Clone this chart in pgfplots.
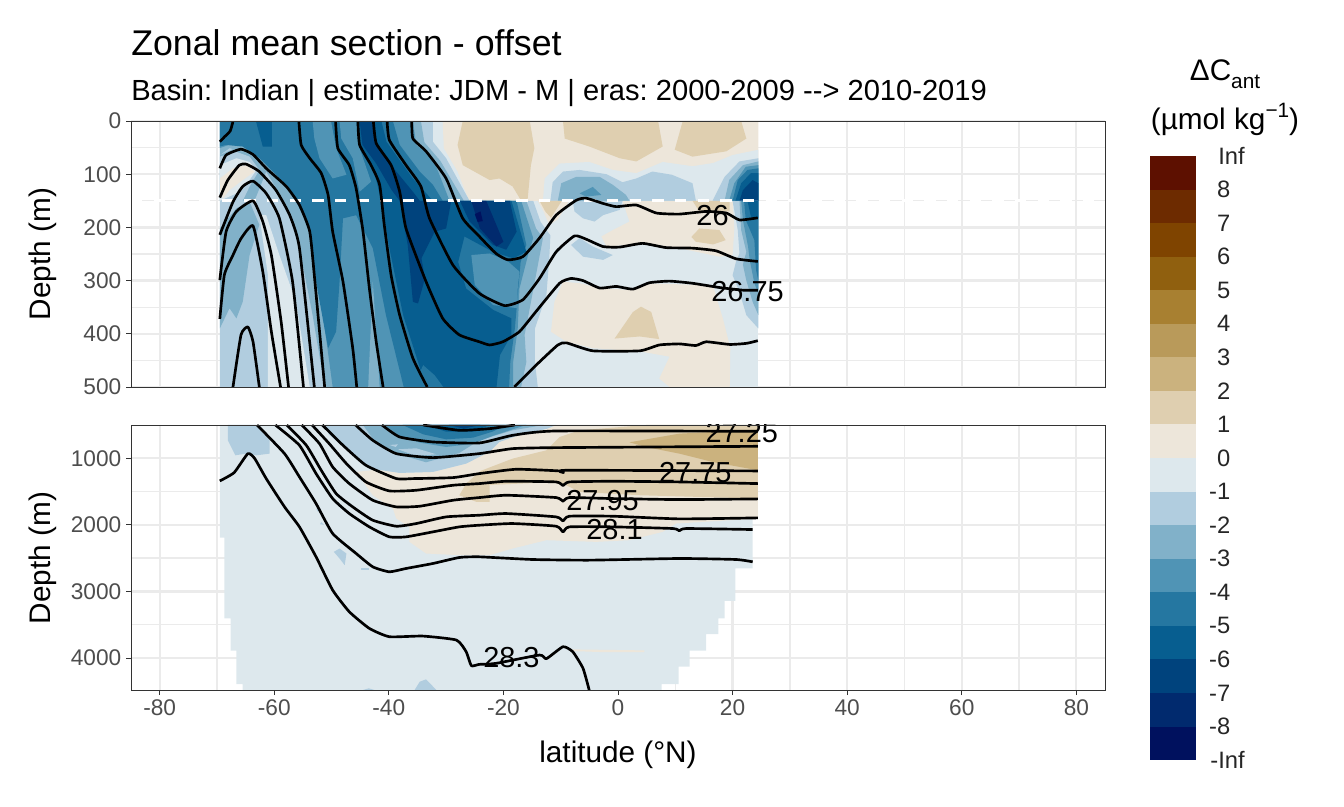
\documentclass[border=0pt]{standalone}
\usepackage{pgfplots}
\pgfplotsset{compat=1.18}
\usepackage{fontspec}
\setmainfont{Liberation Sans}
\definecolor{P8}{HTML}{5D1000}\definecolor{P7}{HTML}{6D2B00}\definecolor{P6}{HTML}{7F4400}
\definecolor{P5}{HTML}{90600F}\definecolor{P4}{HTML}{A88031}\definecolor{P3}{HTML}{B99A5A}
\definecolor{P2}{HTML}{CBB27E}\definecolor{P1}{HTML}{DFCFB0}\definecolor{P0}{HTML}{EDE6DA}
\definecolor{N0}{HTML}{DDE8ED}\definecolor{N1}{HTML}{B1CDDF}\definecolor{N2}{HTML}{81B1C9}
\definecolor{N3}{HTML}{5094B5}\definecolor{N4}{HTML}{2577A1}\definecolor{N5}{HTML}{075E90}
\definecolor{N6}{HTML}{00437D}\definecolor{N7}{HTML}{012A6E}\definecolor{N8}{HTML}{00115E}
\definecolor{gridc}{HTML}{EBEBEB}\definecolor{frame}{HTML}{333333}\definecolor{ticklab}{HTML}{4D4D4D}
\newcommand\F[2]{\addplot[fill=#1,draw=none] coordinates {#2} --cycle;}
\newcommand\C[1]{\addplot[black,line width=2pt,smooth,tension=.3,line join=round] coordinates {#1};}
\newcommand\Lab[3]{\node[font=\fontsize{21.7}{24}\selectfont,inner sep=0pt] at (axis cs:#1,#2) {#3};}
\pgfplotsset{panel/.style={
  scale only axis,width=730.5pt,xmin=-85,xmax=85,y dir=reverse,
  xtick={-80,-60,-40,-20,0,20,40,60,80},minor x tick num=1,minor tick length=0pt,
  grid=both,major grid style={gridc,line width=1.7pt},minor grid style={gridc,line width=1pt},
  axis line style={frame,line width=.7pt},tick style={frame,line width=.7pt},
  major tick length=3.75pt,tick align=outside,tick pos=left,
  tick label style={font=\fontsize{17}{20}\selectfont,text=ticklab},
  /pgf/number format/assume math mode=true,/pgf/number format/1000 sep={},
  scaled ticks=false,clip=true,
}}
\begin{document}
\frenchspacing
\begin{tikzpicture}
\path[use as bounding box] (0,0) rectangle (1008pt,604.5pt);
%% ---------- upper panel ----------
\begin{axis}[panel,at={(98.25pt,314.25pt)},anchor=south west,height=199.5pt,ymin=0,ymax=500,
  ytick={0,100,200,300,400,500},minor y tick num=1,xticklabels={},x tick style={draw=none}]
\F{N0}{(-69.5,0)(24.5,0)(24.5,500)(-69.5,500)}
% positive, above 150 m
\F{P0}{(-30.6,0)(-30.4,51)(-28,95)(-26,150)(24.5,150)(24.5,0)}
\F{P1}{(-27.1,0)(-28,45)(-27.1,83)(-22.4,111)(-20.7,108)(-18.4,123)(-16.9,150)(-15.8,150)(-15.2,83)(-14.6,51)(-15.4,0)}
\F{P1}{(-9.6,0)(-9.3,33)(-5,48)(0.3,70)(3.2,76)(7.8,48)(7,0)}
\F{P1}{(11.3,0)(9.9,54)(13,67)(18.9,57)(22.4,33)(21.5,0)}
% negative lobes, above 150 m
\F{N0}{(-13.1,150)(-12.8,108)(-10.2,80)(-5,77)(-0.9,92)(3.2,98)(7.8,77)(13,85)(16.6,79)(20,64)(24.5,54)(24.5,150)}
\F{N1}{(-11.8,150)(-11.4,115)(-9.6,95)(-6.7,92)(-2,100)(0.8,115)(3.2,108)(6,95)(9.4,101)(13,117)(13.6,150)}
\F{N2}{(-10.5,150)(-9.9,117)(-7.3,105)(-3.2,105)(-0.9,120)(1.4,139)(2,150)}
\F{N3}{(-6.7,136)(-4.4,124)(-2.9,139)(-5.6,142)}
\F{N1}{(16.5,150)(18.6,105)(21.2,76)(24.5,70)(24.5,150)}
\F{N2}{(18.6,150)(19.4,111)(21.8,83)(24.5,76)(24.5,150)}
\F{N3}{(19.4,150)(20.3,117)(22.3,86)(24.5,83)(24.5,150)}
\F{N4}{(20,150)(20.9,111)(22.6,92)(24.5,89)(24.5,150)}
\F{N5}{(20.5,150)(21.5,117)(23.2,98)(24.5,98)(24.5,150)}
\F{N6}{(21.2,150)(21.8,130)(23.5,111)(24.5,117)(24.5,150)}
% positive, below 150 m
\F{P0}{(0.8,150)(20,150)(20.3,202)(20,252)(17.7,255)(10.7,239)(4.9,230)(-2,236)(-2.9,217)(-0.9,205)(2,189)(1.4,170)}
\F{P0}{(-14,150)(-8.5,150)(-10.5,185)(-12,195)(-13,170)}
\F{P1}{(-13.7,150)(-9.8,150)(-11.7,182)(-12.7,170)}
\F{P1}{(13,150)(19.5,150)(19.5,170)(14.2,170)}
\F{P1}{(12.8,218)(14.2,202)(17.7,205)(18.8,224)(16.6,232)(13.6,227)}
\F{N1}{(-7.9,150)(0.8,150)(0.3,167)(-2.6,177)(-4.1,189)(-6.1,183)(-7.6,170)}
\F{N1}{(-8.2,233)(-6.7,220)(-4.4,236)(-0.9,252)(-2.6,261)(-6.1,255)}
\F{P0}{(-9.6,302)(-6.7,305)(-3.2,314)(2.6,318)(4.9,305)(16.6,309)(17.4,340)(18.3,371)(19.6,427)(19.5,500)(9,500)(7.2,484)(9,443)(3.8,433)(-4.4,427)(-9,415)(-11.7,396)(-11.1,340)}
\F{P1}{(-0.6,409)(2.6,359)(4,349)(5.8,359)(7.2,410)(3.8,405)}
% right-hand blob below 150 m
\F{N1}{(20,150)(20.9,205)(21.2,249)(20.6,264)(20,290)(21.2,321)(22.4,365)(24.5,390)(24.5,150)}
\F{N2}{(21.2,150)(21.5,205)(22.4,246)(21.8,270)(22.4,300)(23.5,340)(24.5,365)(24.5,150)}
\F{N3}{(21.5,150)(21.8,186)(22.7,236)(23,262)(23.8,305)(24.5,324)(24.5,150)}
\F{N4}{(22,150)(22.3,186)(23.8,224)(24.1,280)(24.5,300)(24.5,150)}
\F{N5}{(22.6,150)(23.2,180)(24.5,183)(24.5,150)}
% left, nested layers
\F{N1}{(-69.5,0)(-32.3,0)(-32.3,39)(-30,70)(-27.1,127)(-25.9,150)(-14.8,150)(-13.5,190)(-11.8,215)(-12,260)(-12.5,327)(-14.5,390)(-14.5,453)(-14,500)(-69.5,500)}
\F{N0}{(-62.6,177)(-61.1,290)(-61.1,500)(-53.8,500)(-56.2,340)(-59.1,252)(-61.4,177)}
\F{N2}{(-69.5,0)(-34.4,0)(-33.8,40)(-31,75)(-28,130)(-26.9,150)(-16,150)(-14.3,202)(-13.1,220)(-15.4,352)(-16.3,402)(-16,453)(-16.9,500)(-51.2,500)(-53.3,365)(-55.6,239)(-57.9,158)(-61.4,95)(-64.3,61)(-67.8,51)(-69.5,64)}
\F{N3}{(-69.5,0)(-35.8,0)(-35.2,45)(-32.3,70)(-29.4,150)(-16.9,150)(-14.8,220)(-15.7,252)(-17.2,315)(-17.5,390)(-18.3,453)(-18.3,500)(-49.8,500)(-51.5,365)(-52.9,239)(-55,177)(-57.3,127)(-60.8,83)(-64.3,51)(-67.2,42)(-69.5,51)}
\F{N4}{(-69.5,0)(-39.3,0)(-38.1,45)(-34.6,95)(-32.3,120)(-30.6,150)(-17.7,150)(-16,233)(-17,265)(-18,390)(-18.8,453)(-19,500)(-37.4,500)(-40.5,365)(-42.8,239)(-45.7,177)(-48,183)(-48.6,302)(-49.2,396)(-50.6,427)(-52.7,302)(-53.8,208)(-55.6,158)(-58.5,114)(-62.6,70)(-65.5,48)(-68.4,45)(-69.5,48)}
\F{N2}{(-43.6,500)(-42.8,302)(-41.6,500)}
\F{N3}{(-25.6,252)(-22.4,249)(-19.2,264)(-17.2,283)(-17.5,315)(-17.5,352)(-21.8,346)(-25,308)}
\F{N3}{(-53.3,0)(-50.1,0)(-49.2,51)(-47.4,101)(-49.8,108)(-52.1,70)(-53,33)}
\F{N3}{(-48.6,0)(-45.7,0)(-45.1,51)(-43.1,114)(-45.1,133)(-46.3,70)(-48.3,33)}
\F{N5}{(-63.2,0)(-60.4,0)(-60.4,48)(-62,48)}
\F{N5}{(-45.4,0)(-41.3,0)(-40.4,39)(-35.8,108)(-32.3,150)(-18.6,150)(-16,246)(-18.3,258)(-21.8,246)(-26.8,217)(-27.9,265)(-26.5,315)(-21.8,355)(-18.6,371)(-18.6,402)(-20.6,440)(-21.2,500)(-33.5,500)(-37.5,365)(-39.9,239)(-41.3,152)(-42.8,83)(-45.1,45)}
\F{N4}{(-35.8,500)(-34,459)(-32,478)(-30.5,500)}
\F{N6}{(-45.1,0)(-44.6,45)(-42.2,80)(-39.5,130)(-38.1,150)(-36.7,233)(-35.8,340)(-34.9,343)(-33.7,296)(-34.3,258)(-32,208)(-30,202)(-29.1,150)(-34.6,150)(-35.8,133)(-38.7,95)(-42.2,39)(-42.5,0)}
\F{N6}{(-27.6,150)(-18.9,150)(-17.7,208)(-19.5,242)(-21.8,233)(-25.9,189)}
\F{N7}{(-25.6,150)(-23,150)(-20,227)(-21.2,236)(-24.1,202)}
\F{N8}{(-25,175)(-24,170)(-23.6,188)(-24.5,190)}
% left bump
\F{N2}{(-69.5,202)(-66.6,164)(-64.3,152)(-62.6,195)(-64.3,252)(-65.5,340)(-66.6,371)(-67.8,352)(-69.5,390)}
\F{N2}{(-69.5,64)(-67.2,53)(-64.3,61)(-61.4,95)(-63.3,146)(-65.5,150)(-69.5,150)}
\F{N1}{(-69.5,67)(-66.6,58)(-64.3,67)(-62.6,92)(-64.3,123)(-65.5,150)(-69.5,150)}
\F{N0}{(-69.5,83)(-66.6,70)(-64.3,77)(-63.1,92)(-64.9,120)(-66.6,136)(-69.5,150)}
\F{P0}{(-69.5,108)(-67.2,89)(-64.9,83)(-63.4,95)(-65.5,111)(-67.8,130)(-68.9,145)(-69.5,130)}
% dashed line at 150 m
\addplot[white,line width=2pt,dash pattern=on 8.5pt off 8.5pt] coordinates {(-85,150)(85,150)};
% isopycnals
\C{(-69.5,39)(-68.7,30)(-67.7,19)(-67.3,5)(-67.2,0)}
\C{(-69.5,89)(-68.4,64)(-65.8,53)(-63.7,63)(-61.4,89)(-57.9,123)(-55.6,158)(-53.8,208)(-52.9,302)(-51.2,500)}
\C{(-69.5,144)(-68.1,111)(-66.1,83)(-64.9,81)(-62.6,95)(-59.7,130)(-57.3,177)(-55.6,239)(-53,500)}
\C{(-69.5,214)(-67.2,152)(-65.5,123)(-63.7,113)(-61.4,136)(-59.1,183)(-56.8,302)(-54.9,500)}
\C{(-69.5,299)(-68.4,208)(-66.6,170)(-63.7,150)(-62,189)(-60.5,252)(-58.8,377)(-57.5,500)}
\C{(-69.5,372)(-68.7,289)(-67.2,252)(-65.8,221)(-63.7,197)(-62,283)(-60.5,396)(-58.9,500)}
\C{(-67.2,500)(-65.8,402)(-64.6,387)(-63.7,415)(-62.6,500)}
\C{(-55.7,0)(-55.3,45)(-53.8,70)(-51.8,98)(-50.6,139)(-49.8,208)(-48,302)(-46.3,427)(-45.6,500)}
\C{(-49.3,0)(-48.9,51)(-46.9,83)(-45.7,127)(-44.5,208)(-43.4,314)(-42.2,415)(-41,500)}
\C{(-45.4,0)(-45.1,45)(-43.1,83)(-41.6,120)(-40.8,195)(-39.6,290)(-38.1,365)(-35.8,446)(-33.3,500)}
\C{(-42.7,0)(-42.2,42)(-39.6,83)(-38.1,133)(-37,202)(-33.5,302)(-30.6,371)(-27.7,402)(-24.2,415)(-22.4,421)(-20.1,415)(-17.2,396)(-14.3,358)(-10.2,305)(-8.2,296)(-6.1,300)(-3.2,314)(-0.3,311)(2.6,316)(5.5,304)(9,301)(13,305)(17.7,313)(21.8,318)(24.4,318)}
\C{(-40.3,0)(-39.9,36)(-37,83)(-34.4,123)(-32.9,183)(-28.8,271)(-24.2,324)(-19.8,347)(-16.6,336)(-13.7,296)(-10.8,246)(-7.6,216)(-5.6,222)(-2.6,236)(0.3,237)(4.3,230)(8.4,238)(13,239)(17.1,244)(20.6,259)(24.4,264)}
\C{(-36,0)(-35.8,33)(-33.5,57)(-30,108)(-27.1,183)(-24.2,217)(-21.3,249)(-19.2,261)(-16.6,255)(-13.7,220)(-10.8,177)(-7.3,149)(-5.6,145)(-2.6,155)(-0.3,161)(3.2,158)(6.7,173)(10.7,175)(15.4,170)(18.9,173)(21.2,186)(24.4,182)}
\C{(-18.1,500)(-14.3,459)(-10.5,421)(-9,417)(-4.4,432)(3.8,432)(7.2,421)(10.7,419)(13.6,422)(15.4,415)(19.5,420)(22.4,418)(24.4,413)}
\Lab{16.5}{177}{26}
\Lab{22.6}{320}{26.75}
\draw[frame,line width=.7pt] (rel axis cs:0,0) rectangle (rel axis cs:1,1);
\end{axis}
%% ---------- lower panel ----------
\begin{axis}[panel,at={(98.25pt,87pt)},anchor=south west,height=198.75pt,ymin=500,ymax=4480,
  ytick={1000,2000,3000,4000},minor y tick num=1]
\F{N0}{(-69.5,500)(24.4,500)(24.4,1905)(23.5,1905)(23.5,2655)(20.5,2655)(20.5,3140)(18.6,3140)(18.6,3405)(17.5,3405)(17.5,3640)(15.4,3640)(15.4,3890)(12.5,3890)(12.5,4130)(10.6,4130)(10.6,4390)(7.6,4390)(7.6,4480)(-65.5,4480)(-65.5,4390)(-66.6,4390)(-66.6,3890)(-67.6,3890)(-67.6,3405)(-68.7,3405)(-68.7,2190)(-69.5,2190)}
\F{P0}{(-45.7,1205)(-42.8,1555)(-39.3,1755)(-38.7,1905)(-36.4,2030)(-36.4,2255)(-33.5,2430)(-27.7,2455)(-22.4,2455)(-18.4,2355)(-12.5,2230)(-3.8,2255)(2,2230)(7.8,2105)(10.1,1980)(24.4,1905)(24.4,500)(-10.8,500)(-12.5,560)(-16.6,630)(-20.7,755)(-22.4,900)(-26.5,1080)(-32.3,1205)(-38.1,1220)(-42,1170)}
\F{P1}{(-26.5,1380)(-24,1190)(-18.4,1005)(-12.5,880)(-10.2,680)(-6.7,580)(4.9,500)(24.4,500)(24.4,1605)(3.8,1555)(-6.7,1505)(-10.2,1355)(-22.4,1400)(-22.4,1655)(-24.7,1655)(-27.7,1555)}
\F{P2}{(2,760)(10.7,630)(24.4,570)(24.4,1180)(16.5,1055)(10.7,930)(4.9,830)}
\F{P0}{(-8,3870)(4.6,3885)(4.6,3910)(-3,3910)(-8,3895)}
\F{N1}{(-51,500)(-50.5,640)(-47.8,840)(-45.1,1040)(-42,1170)(-38.1,1220)(-32.3,1205)(-26.5,1080)(-22.4,900)(-20.7,755)(-16.6,630)(-12.5,560)(-10.8,500)}
\F{N2}{(-44.5,500)(-42.5,740)(-39.3,915)(-33.5,1060)(-27.7,920)(-24.2,730)(-21.3,655)(-18.4,580)(-13,500)}
\F{N1}{(-38.4,865)(-35.2,850)(-31.7,940)(-35.2,965)}
\F{N1}{(-39.9,800)(-38.4,790)(-38.8,830)}
\F{N3}{(-40.8,500)(-38.1,665)(-34.6,765)(-30,830)(-25.3,780)(-21.9,665)(-18.4,565)(-16,500)}
\F{N4}{(-37.6,500)(-34,640)(-30,715)(-25.3,690)(-21.9,600)(-19.5,500)}
\F{N5}{(-33.5,500)(-30,600)(-25.3,600)(-22.4,500)}
\F{N6}{(-29.5,500)(-27,555)(-24,500)}
\F{N1}{(-68.1,500)(-63.1,500)(-60.8,730)(-60.8,930)(-63.1,955)(-64.9,930)(-66.8,955)(-68.1,730)}
\F{N1}{(-49.6,2405)(-48.6,2355)(-47.4,2430)(-47.7,2605)(-48.6,2505)}
\F{N1}{(-52.7,1755)(-52,1790)(-52.4,1800)}
\F{N1}{(-51.8,1960)(-51.3,2000)(-52,1990)}
\F{N1}{(-44.9,2655)(-43.5,2655)(-43.5,2680)(-44.9,2680)}
\F{N1}{(-35.5,4480)(-34.6,4355)(-33.5,4320)(-31.7,4480)}
\F{N1}{(-44.5,4480)(-42.5,4480)(-43.5,4455)}
% isopycnals
\C{(-69.5,1340)(-67,1215)(-64.6,930)(-63.4,1005)(-61.4,1305)(-58.2,1730)(-55.6,2030)(-52.7,2480)(-49.8,2980)(-46.9,3305)(-43.4,3555)(-39.9,3680)(-34.1,3670)(-28.2,3730)(-26.5,3905)(-25.6,4115)(-24.2,4095)(-21.3,4080)(-13.7,3955)(-12.5,4010)(-9.6,3830)(-7.9,3905)(-6.1,4155)(-5,4490)}
\C{(-63,500)(-58.2,930)(-55.6,1280)(-52.7,1680)(-49.8,2130)(-45.7,2430)(-42.8,2630)(-39.9,2705)(-37,2655)(-32.3,2580)(-27.7,2490)(-24.2,2480)(-14.9,2520)(-5,2530)(10.7,2505)(20.6,2520)(23.5,2555)}
\C{(-59.8,500)(-55.6,805)(-52.7,1230)(-49.8,1605)(-46.9,1830)(-43.4,2030)(-39.9,2180)(-37,2180)(-32.3,2105)(-27.7,2030)(-24.2,2005)(-18.4,1980)(-10.8,2020)(-9.6,2105)(-8.5,2030)(-0.9,2030)(9.6,2055)(10.7,2090)(11.9,2055)(23.5,2070)}
\C{(-57.8,500)(-54.4,805)(-51.8,1180)(-49.2,1530)(-46.3,1730)(-42.8,1930)(-38.7,2020)(-35.2,1980)(-30,1880)(-24.2,1855)(-19.5,1830)(-10.8,1880)(-9.6,1940)(-8.5,1870)(-0.9,1870)(10.7,1910)(24.4,1895)}
\C{(-55.2,500)(-52.1,780)(-49.8,1130)(-46.9,1380)(-42.8,1630)(-38.7,1730)(-34.6,1720)(-28.8,1630)(-24.2,1590)(-19.5,1555)(-10.8,1590)(-9.6,1645)(-8.5,1590)(-0.9,1605)(10.7,1620)(24.4,1610)}
\C{(-53.4,500)(-50.4,780)(-47.4,1080)(-44,1355)(-39.9,1490)(-35.2,1480)(-28.8,1405)(-24.2,1380)(-19.5,1345)(-10.8,1355)(-9.6,1410)(-8.5,1355)(-0.9,1345)(10.7,1355)(24.4,1380)}
\C{(-51.6,500)(-48,805)(-44,1105)(-38.7,1305)(-35.8,1305)(-28.8,1290)(-24.2,1230)(-17.8,1165)(-10.2,1190)(-9.5,1215)(-8.8,1180)(24.4,1190)}
\C{(-45.8,500)(-42.8,730)(-38.7,930)(-32.3,990)(-24.2,930)(-18.4,855)(-10.8,840)(24.4,820)}
\C{(-41.2,500)(-38.1,680)(-32.3,755)(-24.2,770)(-18.4,655)(-10.8,590)(24.4,595)}
\C{(-34,500)(-27.7,580)(-22.4,555)(-18,500)}
\begin{scope}
\clip (rel axis cs:0,0) rectangle (rel axis cs:1,1);
\Lab{21.6}{610}{27.25}
\end{scope}
\Lab{13.5}{1210}{27.75}
\Lab{-2.7}{1630}{27.95}
\Lab{-0.6}{2065}{28.1}
\Lab{-18.6}{3985}{28.3}
\draw[frame,line width=.7pt] (rel axis cs:0,0) rectangle (rel axis cs:1,1);
\end{axis}
%% ---------- text and legend, in picture pixels ----------
\begin{scope}[x=0.75pt,y=-0.75pt,yshift=604.5pt]
\node[anchor=base west,inner sep=0pt,font=\fontsize{26.8}{30}\selectfont] at (131,56) {Zonal mean section - offset};
\node[anchor=base west,inner sep=0pt,font=\fontsize{21.83}{24}\selectfont] at (131,100.5) {Basin: Indian | estimate: JDM - M | eras: 2000-2009 -{}-{}> 2010-2019};
\node[rotate=90,inner sep=0pt,font=\fontsize{22.3}{26}\selectfont] at (43,254) {Depth (m)};
\node[rotate=90,inner sep=0pt,font=\fontsize{22.3}{26}\selectfont] at (43,558) {Depth (m)};
\node[inner sep=0pt,font=\fontsize{22.3}{26}\selectfont] at (618,755) {latitude (°N)};
\node[anchor=base,inner sep=0pt,font=\fontsize{22.3}{26}\selectfont] at (1225,81) {ΔC\raisebox{-.25em}{\fontsize{15.6}{18}\selectfont ant}};
\node[anchor=base,inner sep=0pt,font=\fontsize{22.3}{26}\selectfont] at (1225,130) {(µmol kg\raisebox{.42em}{\fontsize{15.6}{18}\selectfont −1})};
\foreach \c [count=\i from 0] in {P8,P7,P6,P5,P4,P3,P2,P1,P0,N0,N1,N2,N3,N4,N5,N6,N7,N8}{
  \fill[\c] (1150,{156+33.56*\i}) rectangle (1196,{156+33.56*(\i+1)+.4});
}
\foreach \t/\r [count=\i from 0] in {Inf/1245,8/1230.5,7/1230.5,6/1230.5,5/1230.5,4/1230.5,3/1230.5,2/1230.5,1/1230.5,0/1230.5,-1/1230.5,-2/1230.5,-3/1230.5,-4/1230.5,-5/1230.5,-6/1230.5,-7/1230.5,-8/1230.5,-Inf/1245}{
  \node[anchor=east,inner sep=0pt,font=\fontsize{17.8}{20}\selectfont,text=black!85] at (\r,{156+33.56*\i}) {\t};
}
\end{scope}
\end{tikzpicture}
\end{document}
